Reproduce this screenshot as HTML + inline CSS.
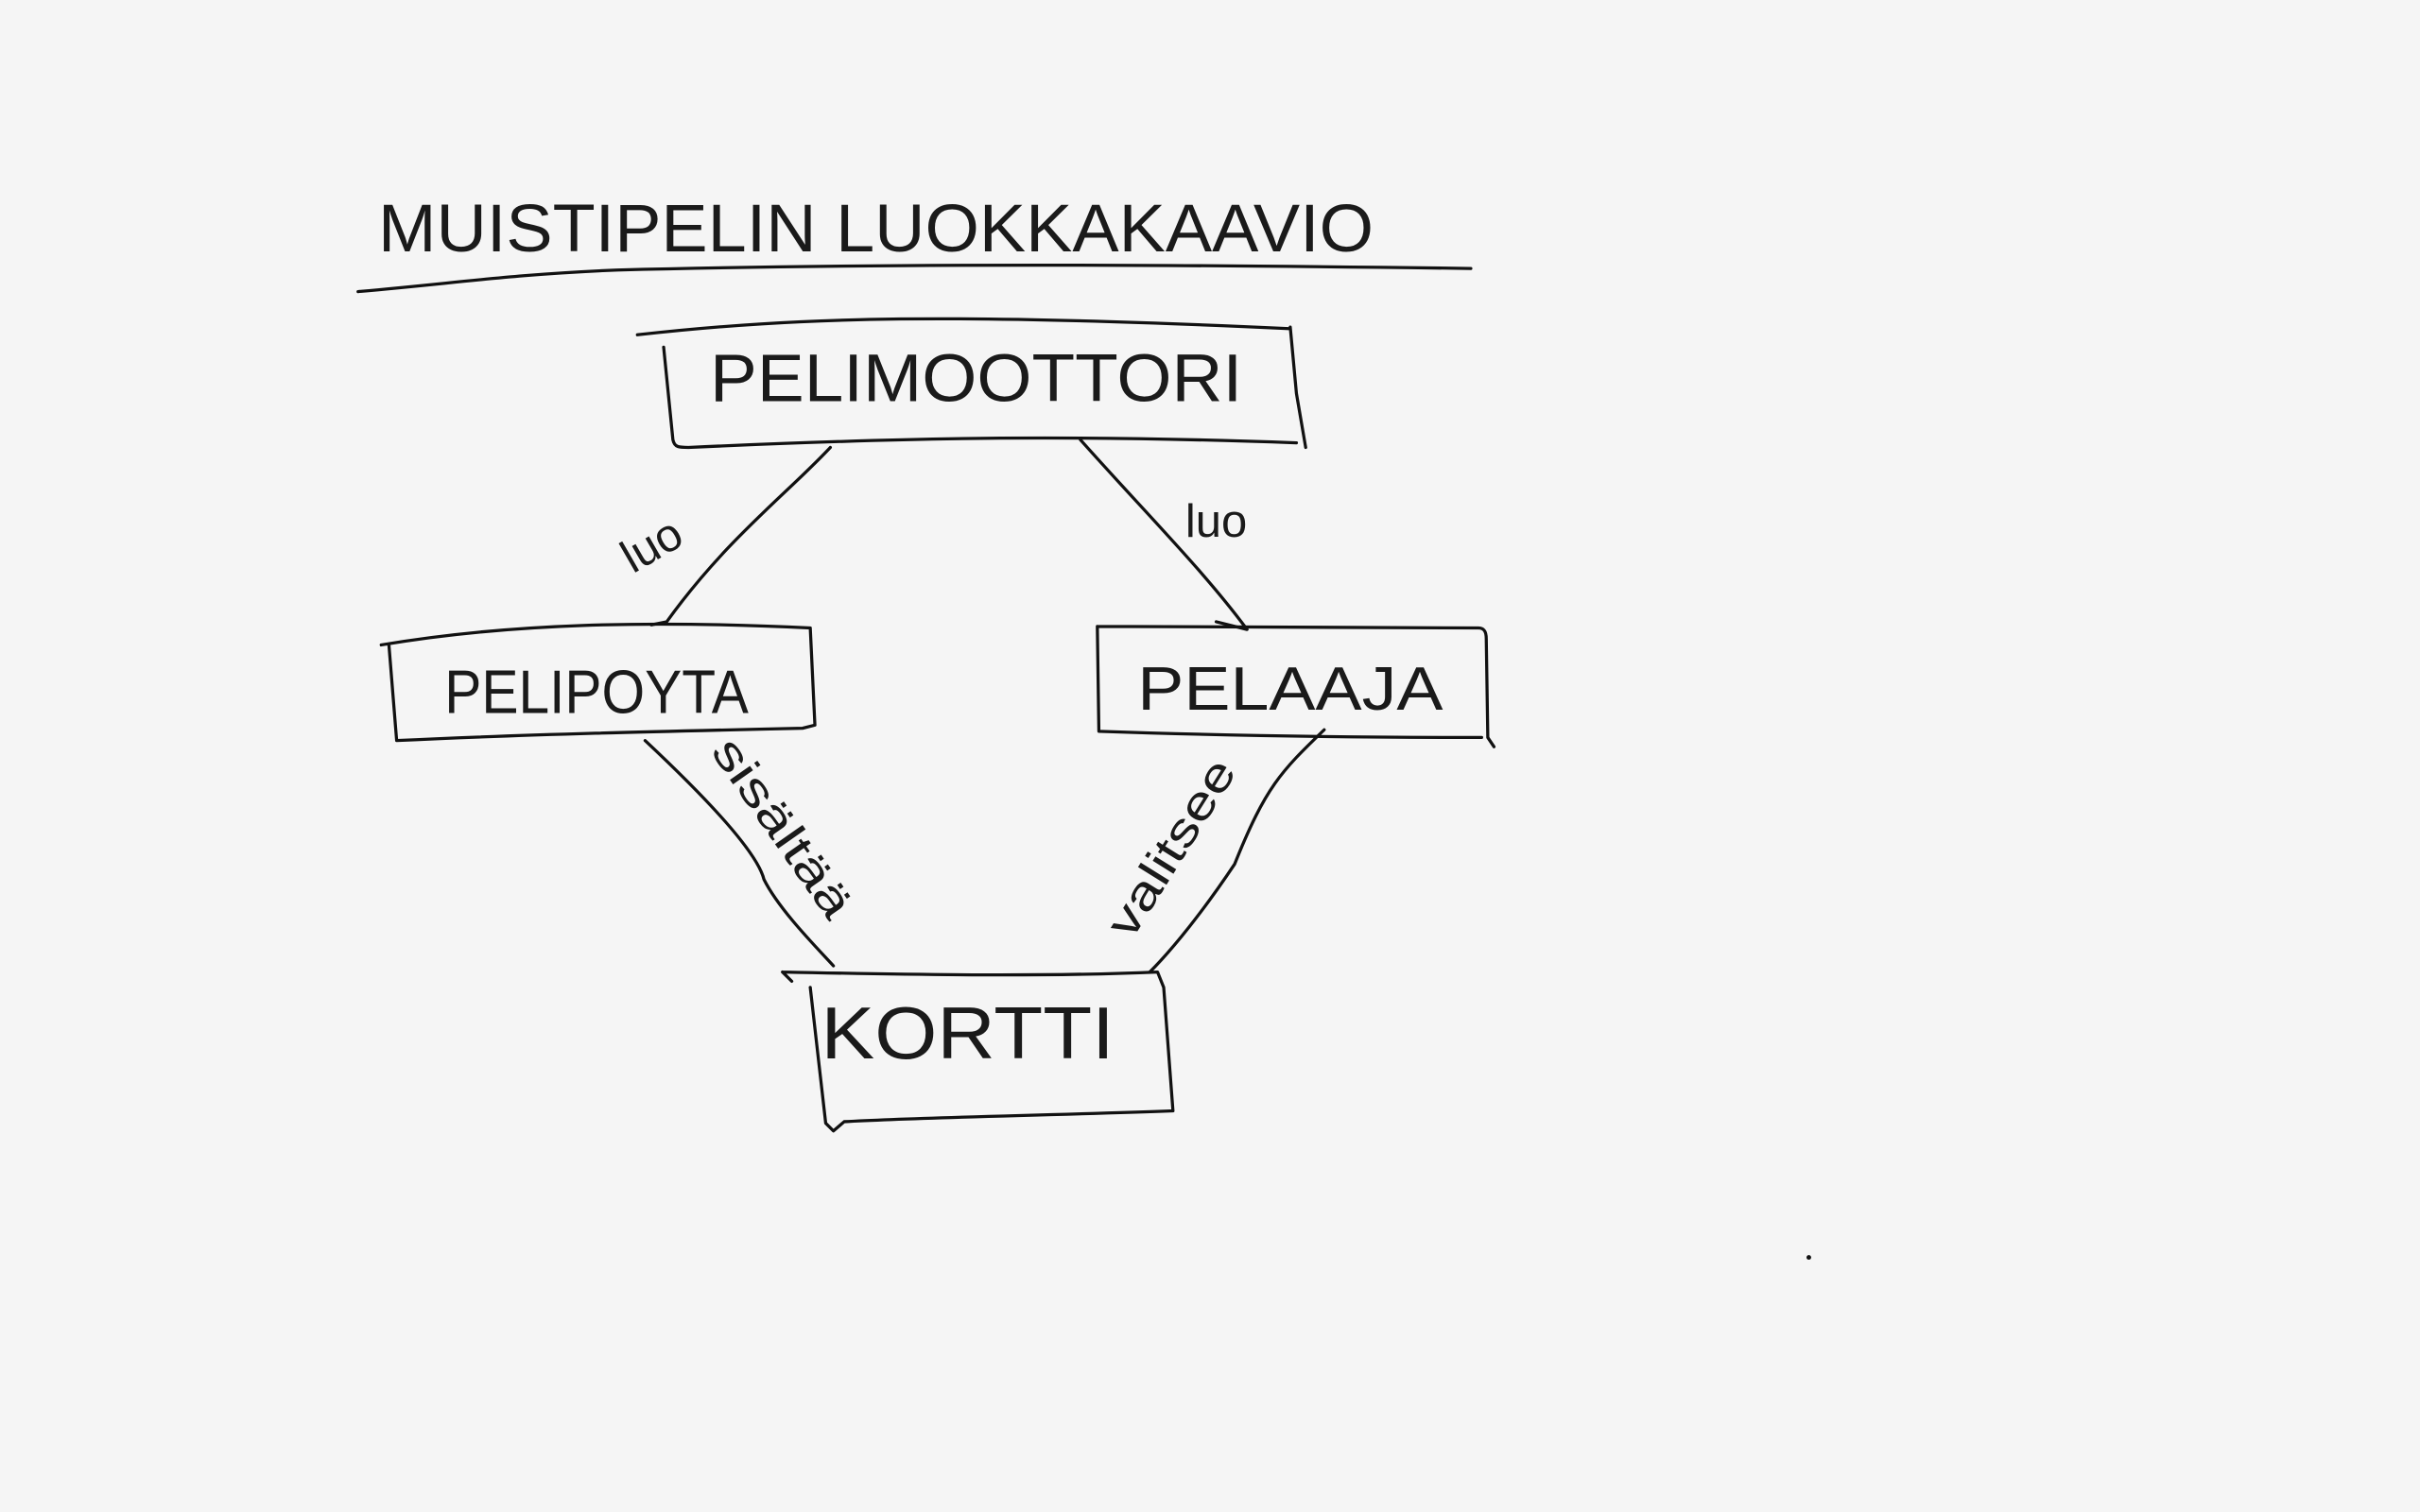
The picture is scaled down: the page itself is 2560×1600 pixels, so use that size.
<!DOCTYPE html>
<html>
<head>
<meta charset="utf-8">
<style>
html,body{margin:0;padding:0;background:#f5f5f5;}
svg{display:block;}
text{font-family:"Liberation Sans",sans-serif;fill:#1a1a1a;}
</style>
</head>
<body>
<svg width="2560" height="1600" viewBox="0 0 1568 980" xmlns="http://www.w3.org/2000/svg">
<rect width="1568" height="980" fill="#f5f5f5"/>
<g fill="none" stroke="#111" stroke-width="2" stroke-linecap="round" stroke-linejoin="round">
<path d="M232 189 C300 183 330 178 400 175 C600 170 800 172 953 174"/>
<path d="M413 217 C520 205 620 203 835 213 M430 225 L436 285 C437 290 440 290 446 290 C600 283 700 282 840 287 M836 212 L840 255 L846 290"/>
<path d="M247 418 C330 404 420 402 525 407 L528 470 M252 418 L257 480 C340 476 430 474 520 472 L528 470"/>
<path d="M711 406 L958 407 C962 407 963 410 963 414 L964 478 L968 484 M711 406 L712 474 C800 477 880 478 960 478"/>
<path d="M507 630 C600 632 680 633 750 630 L754 640 L760 720 C680 723 600 724 547 727 L540 733 L535 728 L525 640 M507 630 L513 636"/>
<path d="M538 290 C510 320 470 350 432 403 L422 405"/>
<path d="M700 285 C740 330 780 370 808 408 L788 403"/>
<path d="M418 480 C450 510 490 550 495 570 C505 590 530 615 540 626"/>
<path d="M858 473 C830 500 820 510 800 560 C780 590 760 615 745 630"/>
</g>
<circle cx="1172" cy="815" r="1.5" fill="#111"/>
<text x="245" y="163" font-size="44" textLength="645" lengthAdjust="spacingAndGlyphs" style="font-weight:300">MUISTIPELIN  LUOKKAKAAVIO</text>
<text x="460" y="260" font-size="44" textLength="345" lengthAdjust="spacingAndGlyphs">PELIMOOTTORI</text>
<text x="288" y="462" font-size="40" textLength="197" lengthAdjust="spacingAndGlyphs">PELIPOYTA</text>
<text x="737" y="460" font-size="40" textLength="198" lengthAdjust="spacingAndGlyphs">PELAAJA</text>
<text x="532" y="686" font-size="48" textLength="190" lengthAdjust="spacingAndGlyphs">KORTTI</text>
<text x="0" y="0" font-size="30" transform="translate(410 372) rotate(-30)">luo</text>
<text x="768" y="348" font-size="30">luo</text>
<text x="0" y="0" font-size="30" transform="translate(460 487) rotate(55)" textLength="135" lengthAdjust="spacingAndGlyphs">sisältää</text>
<text x="0" y="0" font-size="30" transform="translate(733 610) rotate(-58)" textLength="130" lengthAdjust="spacingAndGlyphs">valitsee</text>
</svg>
</body>
</html>
